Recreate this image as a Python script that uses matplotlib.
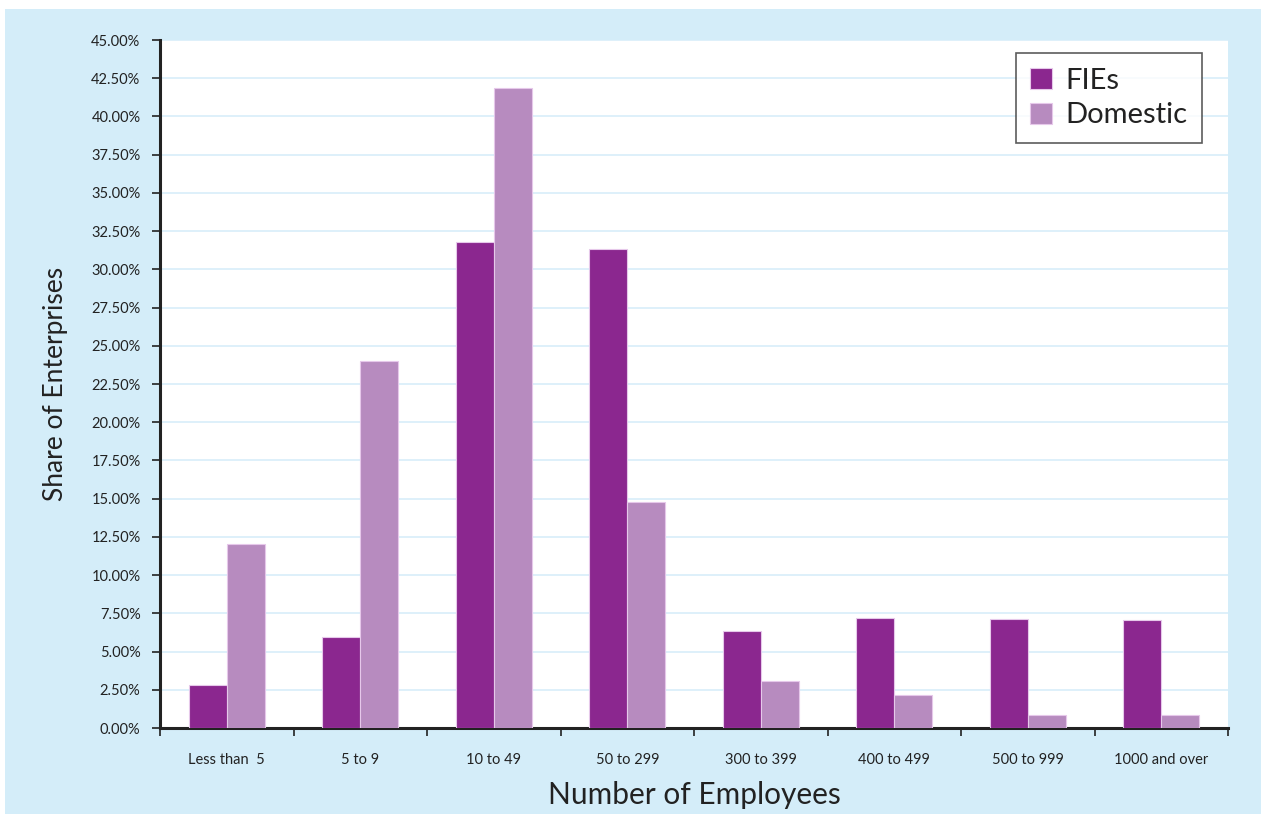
import numpy as np
import matplotlib.pyplot as plt
from matplotlib.patches import Rectangle
from matplotlib.ticker import FuncFormatter, MultipleLocator

plt.rcParams['font.family'] = ['Lato', 'DejaVu Sans']

# Share of enterprises by size band (%)
categories = ["Less than  5", "5 to 9", "10 to 49", "50 to 299",
              "300 to 399", "400 to 499", "500 to 999", "1000 and over"]
fies = [2.8, 5.95, 31.8, 31.3, 6.35, 7.2, 7.13, 7.06]
domestic = [12.05, 24.0, 41.85, 14.8, 3.07, 2.15, 0.85, 0.85]

bg = "#d4edf9"
fie_color = "#8b278f"
dom_color = "#b78bbf"

fig = plt.figure(figsize=(12.61, 8.14), dpi=100)
fig.patch.set_facecolor("white")
# light blue panel behind everything
fig.patches.append(Rectangle((5 / 1261, 0), 1 - 5 / 1261, 1 - 9 / 814,
                             transform=fig.transFigure, facecolor=bg,
                             edgecolor="none", zorder=-10))

ax = fig.add_axes([160 / 1261, 1 - 728 / 814, 1068 / 1261, 688 / 814])
ax.set_facecolor("white")

x = np.arange(len(categories))
w = 0.285
ax.bar(x - w / 2, fies, w, color=fie_color, edgecolor="#e6c8ea",
       linewidth=0.8, label="FIEs", zorder=3)
ax.bar(x + w / 2, domestic, w, color=dom_color, edgecolor="#e6c8ea",
       linewidth=0.8, label="Domestic", zorder=3)

ax.set_xlim(-0.5, len(categories) - 0.5)
ax.set_ylim(0, 45)
ax.yaxis.set_major_locator(MultipleLocator(2.5))
ax.yaxis.set_major_formatter(FuncFormatter(lambda v, p: f"{v:.2f}%"))
ax.grid(axis="y", color="#d8eefa", linewidth=1.2, zorder=0)

# category labels between boundary ticks
ax.set_xticks(np.arange(len(categories) + 1) - 0.5)
ax.set_xticklabels([])
ax.set_xticks(x, minor=True)
ax.set_xticklabels(categories, minor=True)
ax.tick_params(axis="x", which="minor", length=0, pad=18, labelsize=10.5,
               labelcolor="#222222")
ax.tick_params(axis="x", which="major", length=6, width=1.2, color="#222222")
ax.tick_params(axis="y", length=6, width=1.2, color="#222222",
               labelsize=10.5, labelcolor="#222222", pad=8)

for s in ["top", "right"]:
    ax.spines[s].set_visible(False)
for s in ["left", "bottom"]:
    ax.spines[s].set_linewidth(2.2)
    ax.spines[s].set_color("#222222")

ax.set_xlabel("Number of Employees", fontsize=21.5, color="#222222")
ax.xaxis.label.set_va("center")
ax.xaxis.set_label_coords(0.5, -0.097)
ax.set_ylabel("Share of Enterprises", fontsize=19, color="#222222")
ax.yaxis.label.set_va("center")
ax.yaxis.set_label_coords(-0.098, 0.5)

leg = ax.legend(loc="upper right", bbox_to_anchor=(0.9757, 0.981), fontsize=21,
                frameon=True, fancybox=False, edgecolor="#333333",
                handlelength=0.75, handleheight=0.75, handletextpad=0.45,
                borderpad=0.5, labelspacing=0.3, borderaxespad=0)
leg.get_frame().set_linewidth(1.2)
for t in leg.get_texts():
    t.set_color("#222222")

fig.savefig("out.png", dpi=100, facecolor=fig.get_facecolor())
